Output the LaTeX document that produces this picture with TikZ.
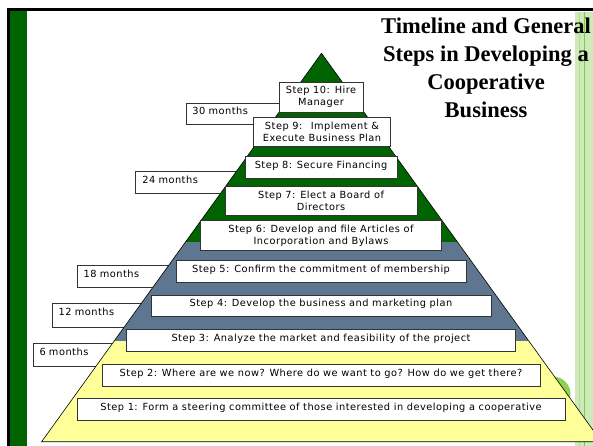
\documentclass[tikz,border=0pt]{standalone}
\usepackage{fontspec}
\setmainfont{Liberation Serif}
\setsansfont{DejaVu Sans}[LetterSpace=5]
\usetikzlibrary{positioning}

\begin{document}
\begin{tikzpicture}[x=1pt,y=-1pt,oneline/.style={text height=7pt,text depth=5pt}]
            \definecolor{grn}{RGB}{0,100,0}
            \definecolor{slt}{RGB}{95,118,145}
            \definecolor{ylw}{RGB}{255,255,153}
            \definecolor{lim}{RGB}{146,208,80}
            \definecolor{strp}{RGB}{206,234,186}
            \definecolor{strl}{RGB}{124,205,60}

            \useasboundingbox (0,0) rectangle (593,446);
            \fill[white] (0,0) rectangle (593,446);

            % side strip on the right
            \fill[strp] (573,12) rectangle (593,446);
            \draw[white,line width=1.5pt] (574,12) -- (574,446);
            \draw[strl!60,line width=0.6pt] (579.5,12) -- (579.5,446);
            \draw[strl,line width=1.2pt] (584.5,12) -- (584.5,446);

            % frame and green bar
            \fill[black] (7.3,8.5) rectangle (593,11.5);
            \fill[black] (7.3,8.5) rectangle (10,446);
            \fill[grn]   (10,11.5) rectangle (27.3,446);

            \fill[lim] (553,394) circle[radius=17.5];

            \begin{scope}[
                every node/.style={draw=black!80,fill=white,line width=0.8pt,anchor=north west,
                    align=left,inner xsep=6.5pt,inner ysep=0pt,oneline,
                    font=\sffamily\fontsize{9.8}{12}\selectfont}
            ]
                \node (m30) [text width=83pt,minimum height=21pt]   at (185.5,103)   {30 months};
                \node (m24) [text width=92pt,minimum height=22.3pt] at (135.4,171)   {24 months};
                \node (m18) [text width=97pt,minimum height=22pt]   at (76.8,265)    {18 months};
                \node (m12) [text width=97pt,minimum height=24pt]   at (51.8,302.5)  {12 months};
                \node (m6)  [text width=87pt,minimum height=22.2pt] at (32.6,343.3)  {6 months};
            \end{scope}

            % pyramid in three bands
            \coordinate (top) at (321.5,53.3);
            \coordinate (bl)  at (41.6,441.7);
            \coordinate (br)  at (601.4,441.7);
            \begin{scope}
                \clip (top) -- (bl) -- (br) -- cycle;
                \fill[grn] (0,0)     rectangle (610,241.5);
                \fill[slt] (0,241.5) rectangle (610,341);
                \fill[ylw] (0,341)   rectangle (610,446);
            \end{scope}
            \draw[line width=0.6pt] (top) -- (bl) -- (br) -- cycle;

            \begin{scope}[
                every node/.style={draw=black!80,fill=white,line width=0.8pt,align=center,
                    inner sep=0pt,font=\sffamily\fontsize{9.8}{12}\selectfont}
            ]
                \node (s1)  [oneline,minimum width=488pt,minimum height=22pt]   at (321,409.3) {Step 1: Form a steering committee of those interested in developing a cooperative};
                \node (s2)  [oneline,minimum width=438pt,minimum height=22pt]   at (321,375)   {Step 2: Where are we now? Where do we want to go? How do we get there?};
                \node (s3)  [oneline,minimum width=389pt,minimum height=22pt]   at (321,340)   {Step 3: Analyze the market and feasibility of the project};
                \node (s4)  [oneline,minimum width=340pt,minimum height=21.7pt] at (321,305.9) {Step 4: Develop the business and marketing plan};
                \node (s5)  [oneline,minimum width=290pt,minimum height=22pt]   at (321,271)   {Step 5: Confirm the commitment of membership};
                \node (s6)  [minimum width=241pt,minimum height=29.3pt] at (321,235.4) {Step 6: Develop and file Articles of\\Incorporation and Bylaws};
                \node (s7)  [minimum width=192pt,minimum height=28.5pt] at (321,200.8) {Step 7: Elect a Board of\\Directors};
                \node (s8)  [oneline,minimum width=152pt,minimum height=22pt]   at (321,167.5) {Step 8: Secure Financing};
                \node (s9)  [minimum width=137pt,minimum height=29.5pt] at (322,131.8) {Step 9:~ Implement \&\\Execute Business Plan};
                \node (s10) [minimum width=84pt,minimum height=30pt]    at (321,97)    {Step 10: Hire\\Manager};
            \end{scope}

            \node (title) [align=center,inner sep=0pt,font=\bfseries\fontsize{22.5}{28}\selectfont]
                at (486,68) {Timeline and General\\Steps in Developing a\\Cooperative\\Business};
        \end{tikzpicture}
\end{document}
